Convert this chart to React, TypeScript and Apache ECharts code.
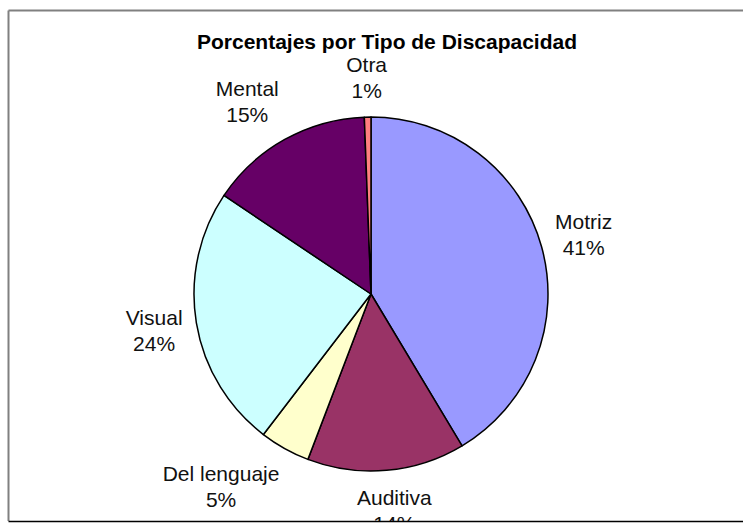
import React, { useEffect, useRef } from "react";
import * as echarts from "echarts";

const categories = ["Motriz", "Auditiva", "Del lenguaje", "Visual", "Mental", "Otra"];
const values = [41.4, 14.4, 4.6, 24.0, 15.0, 0.6];
const colors = ["#9999FF", "#993366", "#FFFFCC", "#CCFFFF", "#660066", "#FF8080"];
const titleText = "Porcentajes por Tipo de Discapacidad";

const CX = 371;
const CY = 294;
const R = 177;

export default function App() {
  const ref = useRef<HTMLDivElement>(null);
  useEffect(() => {
    if (!ref.current) return;
    const chart = echarts.init(ref.current, null, { renderer: "svg" });
    const total = values.reduce((a, b) => a + b, 0);
    const mids: number[] = [];
    let acc = 0;
    values.forEach((v) => {
      mids.push(((acc + v / 2) / total) * Math.PI * 2);
      acc += v;
    });
    const clamp = (v: number) => Math.max(-1, Math.min(1, v));
    chart.setOption({
      animation: false,
      backgroundColor: "#ffffff",
      title: {
        text: titleText,
        left: 382,
        top: 25,
        textAlign: "center",
        textStyle: {
          fontFamily: "Liberation Sans, Arial, sans-serif",
          fontSize: 21,
          lineHeight: 22,
          fontWeight: "bold",
          color: "#000",
        },
      },
      graphic: [
        {
          type: "rect",
          shape: { x: 0, y: 522, width: 743, height: 3 },
          style: { fill: "#ffffff" },
          z: 100,
        },
        {
          type: "line",
          shape: { x1: 8.5, y1: 10.5, x2: 743, y2: 10.5 },
          style: { stroke: "#808080", lineWidth: 2 },
          z: 101,
        },
        {
          type: "line",
          shape: { x1: 8.5, y1: 10.5, x2: 8.5, y2: 521 },
          style: { stroke: "#808080", lineWidth: 2 },
          z: 101,
        },
        {
          type: "line",
          shape: { x1: 8.5, y1: 521.5, x2: 743, y2: 521.5 },
          style: { stroke: "#000000", lineWidth: 1.5 },
          z: 101,
        },
      ],
      series: [
        {
          type: "pie",
          center: [CX, CY],
          radius: R,
          startAngle: 90,
          clockwise: true,
          percentPrecision: 0,
          silent: true,
          data: categories.map((c, i) => ({
            name: c,
            value: values[i],
            itemStyle: { color: colors[i] },
          })),
          itemStyle: { borderColor: "#000", borderWidth: 1.5 },
          label: {
            show: true,
            position: "outside",
            formatter: "{b}\n{d}%",
            fontFamily: "Liberation Sans, Arial, sans-serif",
            fontSize: 21,
            lineHeight: 26,
            color: "#111",
          },
          labelLine: { show: false },
          labelLayout: (params: any) => {
            const a = mids[params.dataIndex];
            const ux = Math.sin(a);
            const uy = -Math.cos(a);
            const d = R + 14;
            const px = CX + ux * d;
            const py = CY + uy * d;
            const w = params.labelRect.width;
            const h = params.labelRect.height;
            const fx = clamp(ux * 2);
            const fy = clamp(uy * 1.3);
            return {
              x: px + (fx * w) / 2,
              y: py + (fy * h) / 2,
              align: "center",
              verticalAlign: "middle",
            };
          },
        },
      ],
    });
    return () => chart.dispose();
  }, []);
  return (
    <div
      ref={ref}
      style={{ position: "fixed", left: 0, top: 0, width: 743, height: 525, background: "#fff" }}
    />
  );
}
